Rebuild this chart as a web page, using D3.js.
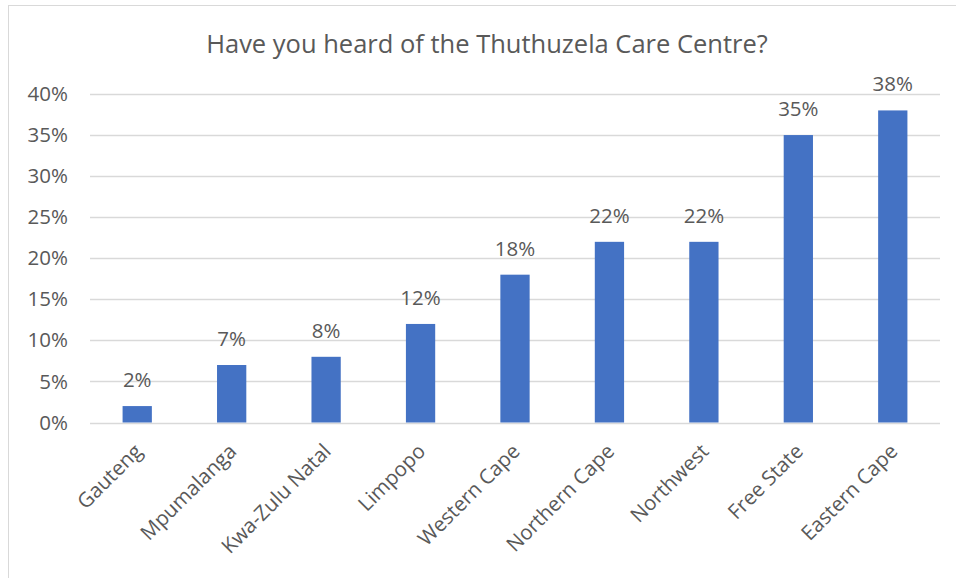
<!DOCTYPE html>
<html>
<head>
<meta charset="utf-8">
<script src="https://cdn.jsdelivr.net/npm/d3@7"></script>
<style>
  html, body { margin: 0; padding: 0; background: #fff; }
  svg { display: block; }
  text { font-family: "Open Sans", "Noto Sans", sans-serif; fill: #595959; }
</style>
</head>
<body>
<svg id="chart" width="956" height="578"></svg>
<script>
const title = "Have you heard of the Thuthuzela Care Centre?";
const categories = ["Gauteng", "Mpumalanga", "Kwa-Zulu Natal", "Limpopo", "Western Cape", "Northern Cape", "Northwest", "Free State", "Eastern Cape"];
const values = [0.02, 0.07, 0.08, 0.12, 0.18, 0.22, 0.22, 0.35, 0.38];
const yTicks = [0, 0.05, 0.10, 0.15, 0.20, 0.25, 0.30, 0.35, 0.40];

const svg = d3.select("#chart");
const plot = { left: 90, right: 940, top: 94, bottom: 422.5 };
const fontLbl = "20.5px";

// chart border
svg.append("rect")
  .attr("x", 8.5).attr("y", 5.5)
  .attr("width", 960).attr("height", 590)
  .attr("fill", "#fff").attr("stroke", "#d9d9d9").attr("stroke-width", 1);

const x = d3.scaleBand()
  .domain(categories)
  .range([plot.left, plot.right])
  .paddingInner(0.69).paddingOuter(0.345);

const y = d3.scaleLinear()
  .domain([0, 0.40])
  .range([plot.bottom, plot.top]);

// gridlines
svg.append("g")
  .selectAll("line")
  .data(yTicks)
  .join("line")
  .attr("x1", plot.left).attr("x2", plot.right)
  .attr("y1", d => Math.round(y(d)) + 0.5).attr("y2", d => Math.round(y(d)) + 0.5)
  .attr("stroke", "#d9d9d9").attr("stroke-width", 1.3);

// y axis labels
const yAxis = d3.axisLeft(y).tickValues(yTicks).tickFormat(d3.format(".0%")).tickSize(0).tickPadding(0);
const gy = svg.append("g").attr("transform", `translate(${plot.left - 22},0)`).call(yAxis);
gy.select(".domain").remove();
gy.selectAll("text").style("font-size", fontLbl).attr("fill", "#595959").attr("font-family", "Open Sans");

// bars
svg.append("g")
  .selectAll("rect")
  .data(values)
  .join("rect")
  .attr("x", (d, i) => x(categories[i]))
  .attr("width", x.bandwidth())
  .attr("y", d => y(d))
  .attr("height", d => y(0) - y(d))
  .attr("fill", "#4472c4");

// data labels
svg.append("g")
  .selectAll("text")
  .data(values)
  .join("text")
  .attr("x", (d, i) => x(categories[i]) + x.bandwidth() / 2)
  .attr("y", d => y(d) - 19)
  .attr("text-anchor", "middle")
  .style("font-size", fontLbl)
  .text(d => d3.format(".0%")(d));

// x axis labels
const xAxis = d3.axisBottom(x).tickSize(0).tickPadding(0);
const gx = svg.append("g").attr("transform", `translate(0,${plot.bottom})`).call(xAxis);
gx.select(".domain").remove();
gx.selectAll("text")
  .attr("font-family", "Open Sans")
  .style("font-size", fontLbl)
  .attr("fill", "#595959")
  .attr("text-anchor", "end")
  .attr("dy", "0.35em")
  .attr("transform", "translate(1,25) rotate(-45)");

// title
svg.append("text")
  .attr("x", 487).attr("y", 53)
  .attr("text-anchor", "middle")
  .style("font-size", "25.5px")
  .text(title);
</script>
</body>
</html>
